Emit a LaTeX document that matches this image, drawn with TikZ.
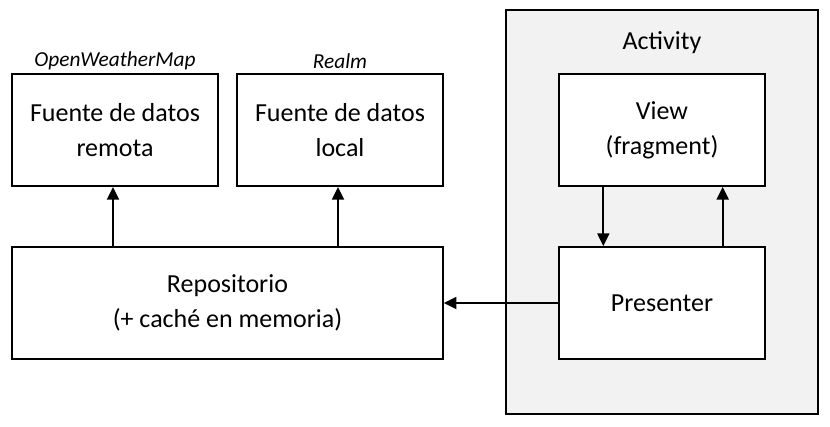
\documentclass[tikz,border=0pt]{standalone}
\usepackage{fontspec}
\setmainfont{Carlito}
\usetikzlibrary{arrows.meta}
\definecolor{actgray}{HTML}{F2F2F2}

\begin{document}
\begin{tikzpicture}[x=0.75pt, y=-0.75pt,
  box/.style={draw, line width=1.4pt, fill=white, align=center, minimum width=154pt, minimum height=84pt, font=\fontsize{19.5}{26}\selectfont},
  lbl/.style={font=\fontsize{16}{18}\selectfont\itshape},
  arr/.style={line width=1.4pt, -{Triangle[length=9.5pt,width=9pt]}}]
\useasboundingbox (0,0) rectangle (830,426);
%activity:
\draw[line width=1.4pt, fill=actgray] (506,10) rectangle (818,414);
\node[font=\fontsize{19.5}{22}\selectfont] (act) at (662,43) {Activity};

%boxes:
\node[box] (remote) at (115,130) {Fuente de datos\\remota};
\node[box] (local) at (340,130) {Fuente de datos\\local};
\node[box, minimum width=323pt] (repo) at (227.5,303) {Repositorio\\(+ caché en memoria)};
\node[box] (view) at (662,130) {View\\(fragment)};
\node[box] (presenter) at (662,303) {Presenter};

%labels:
\node[lbl] (owm) at (115,61) {OpenWeatherMap};
\node[lbl] (realm) at (340,61) {Realm};

%arrows:
\foreach \n in {remote, local} {
	\draw[arr] ([xshift=-1.5pt]repo.north -| \n) -- ([xshift=-1.5pt]\n.south);
}
\draw[arr] ([xshift=-44pt]view.south) -- ([xshift=-44pt]presenter.north);
\draw[arr] ([xshift=45.5pt]presenter.north) -- ([xshift=45.5pt]view.south);
\draw[arr] (presenter.west) -- (repo.east);
\end{tikzpicture}
\end{document}
